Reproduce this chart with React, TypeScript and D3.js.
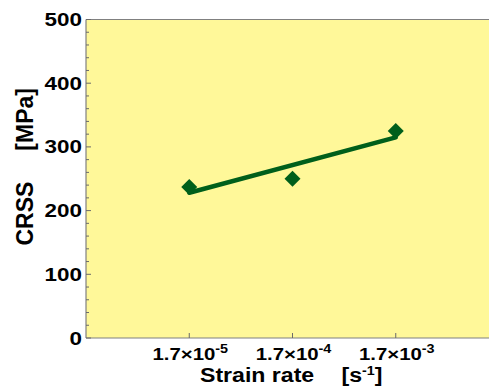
import React from "react";
import * as d3 from "d3";

const strainRates = [1.7e-5, 1.7e-4, 1.7e-3];
const crssValues = [237, 250, 325];
const fitRates = [1.7e-5, 1.7e-3];
const fitValues = [228, 315];
const xTickRates = [1.7e-5, 1.7e-4, 1.7e-3];
const xTickExponents = ["-5", "-4", "-3"];
const yTicks = [0, 100, 200, 300, 400, 500];
const yMinorTicks = d3.range(0, 501, 20);

const W = 489;
const H = 387;
const L = 86;
const T = 19.5;
const B = 338;
const R = 499;

const FONT = "'Liberation Sans', Arial, Helvetica, sans-serif";
const AXIS = "#808080";
const TICK = "#6a6a6a";
const GREEN = "#005f1b";

export default function App() {
  const x = d3.scaleLog().domain([1.7e-6, 1.7e-2]).range([L, R]);
  const y = d3.scaleLinear().domain([0, 500]).range([B, T]);

  const line = d3
    .line<number>()
    .x((_, i) => x(fitRates[i]))
    .y((d) => y(d));

  const diamond = d3.symbol().type(d3.symbolSquare).size(128)();

  return (
    <svg
      width={W}
      height={H}
      style={{ position: "absolute", left: 0, top: 0, background: "#fff" }}
      fontFamily={FONT}
      fontWeight="bold"
    >
      <rect x={L} y={T} width={W - L + 10} height={B - T} fill="#fff899" />
      <line x1={L} x2={W} y1={T} y2={T} stroke={AXIS} strokeWidth={1.2} />
      <line x1={L} x2={L} y1={T} y2={B} stroke={AXIS} strokeWidth={1.2} />
      <line x1={L} x2={W} y1={B} y2={B} stroke={AXIS} strokeWidth={1.2} />

      {yMinorTicks.map((v) => (
        <line
          key={"m" + v}
          x1={L}
          x2={L + (v % 100 === 0 ? 5 : 3)}
          y1={y(v)}
          y2={y(v)}
          stroke={TICK}
          strokeWidth={1}
        />
      ))}
      {xTickRates.map((r) => (
        <line key={"xt" + r} x1={x(r)} x2={x(r)} y1={B} y2={B - 5} stroke={TICK} strokeWidth={1} />
      ))}

      {yTicks.map((v) => (
        <g key={"yl" + v} transform={`translate(82,${y(v) + 6.5}) scale(1.18,1)`}>
          <text textAnchor="end" fontSize={19} fill="#000">
            {v}
          </text>
        </g>
      ))}

      {xTickRates.map((r, i) => (
        <g key={"xl" + r} transform={`translate(${x(r) + 1},359.5) scale(1.2,1)`}>
          <text textAnchor="middle" fontSize={17} fill="#000">
            1.7×10
            <tspan fontSize={12} dy={-7}>
              {xTickExponents[i]}
            </tspan>
          </text>
        </g>
      ))}

      <g transform="translate(200,381.5) scale(1.1,1)">
        <text fontSize={21} fill="#000">Strain rate</text>
      </g>
      <g transform="translate(341.5,381.5) scale(1.1,1)">
        <text fontSize={21} fill="#000">
          [s<tspan fontSize={13} dy={-7}>-1</tspan>
          <tspan dy={7}>]</tspan>
        </text>
      </g>

      <g transform="translate(32.5,245.5) rotate(-90)">
        <text fontSize={23} fill="#000">CRSS</text>
      </g>
      <g transform="translate(32.5,88) rotate(-90)">
        <text fontSize={23} fill="#000" textAnchor="end">[MPa]</text>
      </g>

      <path
        d={line(fitValues) || ""}
        fill="none"
        stroke={GREEN}
        strokeWidth={4.5}
        strokeLinecap="round"
      />
      {strainRates.map((r, i) => (
        <path
          key={"p" + r}
          d={diamond || ""}
          transform={`translate(${x(r)},${y(crssValues[i])}) rotate(45)`}
          fill={GREEN}
        />
      ))}
    </svg>
  );
}
